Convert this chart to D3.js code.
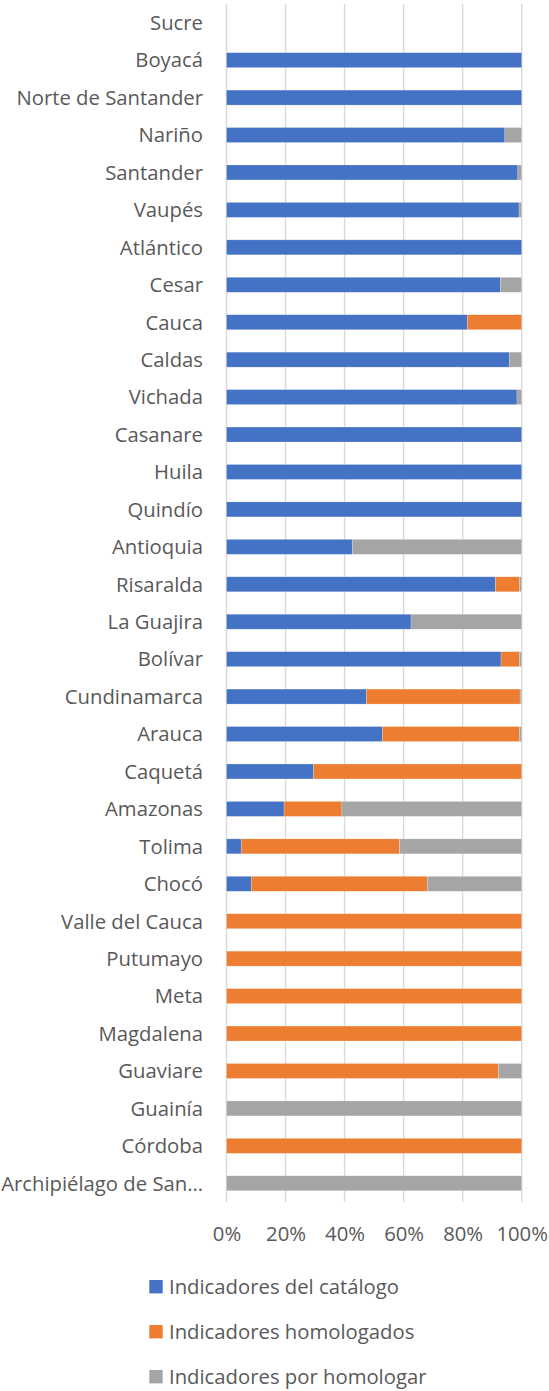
<!DOCTYPE html>
<html>
<head>
<meta charset="utf-8">
<script src="https://cdn.jsdelivr.net/npm/d3@7"></script>
<style>
  html, body { margin: 0; padding: 0; background: #fff; }
  svg { display: block; }
</style>
</head>
<body>
<svg id="chart" width="549" height="1391"></svg>
<script>
const categories = ["Sucre","Boyacá","Norte de Santander","Nariño","Santander","Vaupés","Atlántico","Cesar","Cauca","Caldas","Vichada","Casanare","Huila","Quindío","Antioquia","Risaralda","La Guajira","Bolívar","Cundinamarca","Arauca","Caquetá","Amazonas","Tolima","Chocó","Valle del Cauca","Putumayo","Meta","Magdalena","Guaviare","Guainía","Córdoba","Archipiélago de San…"];
const catalogo =    [0,100,100,94.3,98.7,99.1,100,92.8,81.6,95.8,98.4,100,100,100,42.6,91.1,62.5,93.0,45.5,52.8,29.5,19.5,5.0,8.4,0,0,0,0,0,0,0,0];
const homologados = [0,0,0,0,0,0,0,0,18.4,0,0,0,0,0,0,8.2,0,6.2,50.0,46.4,70.5,19.6,53.6,59.6,100,100,100,100,92.1,0,100,0];
const porHomologar =[0,0,0,5.7,1.3,0.9,0,7.2,0,4.2,1.6,0,0,0,57.4,0.7,37.5,0.8,0.5,0.8,0,60.9,41.4,32.0,0,0,0,0,7.9,100,0,100];
const seriesNames = ["Indicadores del catálogo","Indicadores homologados","Indicadores por homologar"];
const seriesColors = ["#4472C4","#ED7D31","#A5A5A5"];
const tickValues = [0,0.2,0.4,0.6,0.8,1];

const svg = d3.select("#chart");
const font = "'Open Sans', sans-serif";
const fontSize = 20.3;
const textColor = "#595959";

const rows = categories.map((c,i) => {
  const tot = catalogo[i] + homologados[i] + porHomologar[i];
  return {cat: c, s0: tot ? catalogo[i]/tot : 0, s1: tot ? homologados[i]/tot : 0, s2: tot ? porHomologar[i]/tot : 0};
});
const stack = d3.stack().keys(["s0","s1","s2"]);
const layers = stack(rows);

const x = d3.scaleLinear().domain([0,1]).range([226.5, 521.7]);
const y = d3.scaleBand().domain(categories).range([4, 1202]).paddingInner(0.6).paddingOuter(0.3);

// gridlines
svg.append("g").selectAll("line").data(tickValues).join("line")
  .attr("x1", d => x(d)).attr("x2", d => x(d))
  .attr("y1", 4).attr("y2", 1202)
  .attr("stroke", "#D9D9D9").attr("stroke-width", 1.4);

// bars
svg.append("g").selectAll("g").data(layers).join("g")
  .attr("fill", (d,i) => seriesColors[i])
  .selectAll("rect").data(d => d.filter(p => p[1] - p[0] > 0)).join("rect")
  .attr("x", d => x(d[0]))
  .attr("width", d => x(d[1]) - x(d[0]))
  .attr("y", d => y(d.data.cat))
  .attr("height", y.bandwidth())
  .attr("stroke", "#fff").attr("stroke-opacity", 0.35).attr("stroke-width", 0.6);

// category axis labels
const yAxis = d3.axisLeft(y).tickSize(0).tickPadding(0);
const gy = svg.append("g").attr("transform", "translate(203,0)").call(yAxis);
gy.select(".domain").remove();
gy.selectAll("text").attr("font-family", font).attr("font-size", fontSize).attr("fill", textColor).attr("dx", 0).attr("dy", "0.36em");

// x axis tick labels
const xAxis = d3.axisBottom(x).tickValues(tickValues).tickFormat(d3.format(".0%")).tickSize(0).tickPadding(0);
const gx = svg.append("g").attr("transform", "translate(0,1234)").call(xAxis);
gx.select(".domain").remove();
gx.selectAll("text").attr("font-family", font).attr("font-size", fontSize).attr("fill", textColor).attr("dy", "0.36em");

// legend
const legend = svg.append("g").selectAll("g").data(seriesNames).join("g")
  .attr("transform", (d,i) => `translate(149.3,${1286.7 + i*45})`);
legend.append("rect").attr("x", 0).attr("y", -6.7).attr("width", 13.4).attr("height", 13.4)
  .attr("fill", (d,i) => seriesColors[i]);
legend.append("text").attr("x", 19.7).attr("y", 0).attr("dy", "0.36em")
  .attr("font-family", font).attr("font-size", fontSize).attr("fill", textColor)
  .text(d => d);
</script>
</body>
</html>
